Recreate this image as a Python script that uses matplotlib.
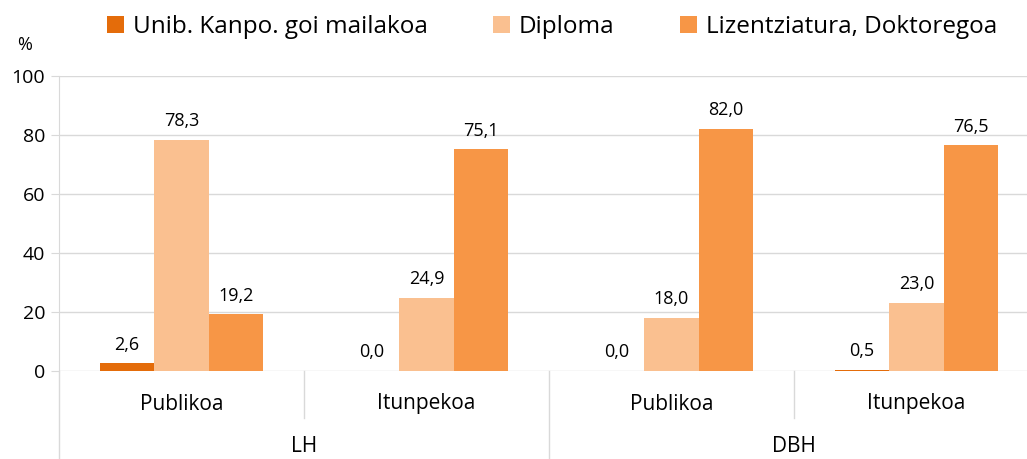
import matplotlib
matplotlib.use("Agg")
import matplotlib.pyplot as plt
import numpy as np

plt.rcParams['font.family'] = ['Open Sans', 'DejaVu Sans']

# data
groups = ['LH', 'DBH']
schools = ['Publikoa', 'Itunpekoa', 'Publikoa', 'Itunpekoa']
series_names = ['Unib. Kanpo. goi mailakoa', 'Diploma', 'Lizentziatura, Doktoregoa']
unib = [2.6, 0.0, 0.0, 0.5]
diploma = [78.3, 24.9, 18.0, 23.0]
lizentziatura = [19.2, 75.1, 82.0, 76.5]
colors = ['#E46C0A', '#FAC090', '#F79646']

W, H = 1027, 459
fig = plt.figure(figsize=(W / 100, H / 100), dpi=100)
ax = fig.add_axes([59 / W, 1 - 371 / H, (1039 - 59) / W, (371 - 76) / H])

x = np.arange(len(schools))
bw = 0.222
grid_c = '#D9D9D9'

for i, (vals, name, c) in enumerate(zip([unib, diploma, lizentziatura], series_names, colors)):
    pos = x + (i - 1) * bw
    ax.bar(pos, vals, bw, color=c, label=name, zorder=3)
    for xp, v in zip(pos, vals):
        ax.annotate(f"{v:.1f}".replace('.', ','), (xp, v), xytext=(0, 7),
                    textcoords='offset points', ha='center', va='bottom',
                    fontsize=13, color='#000000')

ax.set_xlim(-0.5, len(schools) - 0.5)
ax.set_ylim(0, 100)
ax.set_yticks(range(0, 101, 20))
ax.yaxis.grid(True, color=grid_c, linewidth=1, zorder=0)
ax.tick_params(axis='y', length=6, color=grid_c, labelsize=14, pad=4)
ax.set_xticks([])
for s in ['top', 'right', 'bottom']:
    ax.spines[s].set_visible(False)
ax.spines['left'].set_color(grid_c)

# multi-level category axis
trans = ax.get_xaxis_transform()
inner_bot = -(418 - 371) / (371 - 76)
outer_bot = -(470 - 371) / (371 - 76)
for k in range(len(schools) + 1):
    b = outer_bot if k % 2 == 0 else inner_bot
    ax.plot([k - 0.5, k - 0.5], [0, b], transform=trans, color=grid_c,
            linewidth=1, clip_on=False)
for k, s in enumerate(schools):
    ax.text(k, -(404 - 371) / (371 - 76), s, transform=trans, ha='center',
            va='center', fontsize=15)
for g, name in enumerate(groups):
    ax.text(2 * g + 0.5, -(446 - 371) / (371 - 76), name, transform=trans,
            ha='center', va='center', fontsize=15)

fig.text(25 / W, 1 - 45 / H, '%', ha='center', va='center', fontsize=13)

fig.legend(loc='center', bbox_to_anchor=(552 / W, 1 - 27 / H), ncol=3,
           frameon=False, fontsize=17.5, handlelength=0.7, handleheight=0.7,
           handletextpad=0.35, columnspacing=2.7)

fig.savefig('out.png', dpi=100)
